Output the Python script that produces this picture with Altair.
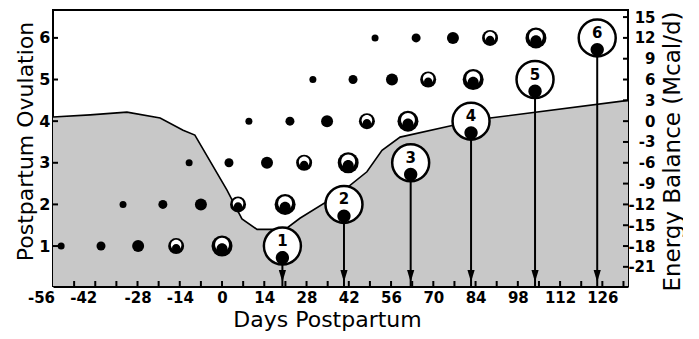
import altair as alt
import pandas as pd

# ---------------- data ----------------
day_labels = [-56, -42, -28, -14, 0, 14, 28, 42, 56, 70, 84, 98, 112, 126]
day_minor_ticks = [-49, -42, -35, -28, -21, -14, -7, 0, 7, 14, 21, 28, 35, 42, 49, 56,
                   63, 70, 77, 84, 91, 98, 105, 112, 119, 126, 133]
ovulation_ticks = [1, 2, 3, 4, 5, 6]
energy_ticks = [-21, -18, -15, -12, -9, -6, -3, 0, 3, 6, 9, 12, 15]

# energy balance curve (Mcal/d)
curve_day = [-56, -43.7, -31.5, -20.5, -12.9, -9.0, 1.6, 6.6, 11.6, 20.9, 25.8,
             39.1, 48.0, 53.0, 59.0, 75.5, 88.8, 134.5]
curve_energy = [0.6, 0.9, 1.3, 0.45, -1.3, -2.0, -9.9, -14.1, -15.6, -15.6, -14.0,
                -10.4, -7.3, -4.2, -2.3, -0.7, 0.45, 3.0]

# follicle waves: day of each growth stage, per ovulation row
stages = [1, 2, 3, 4, 5]
row1_days = [-53.3, -40.1, -27.8, -15.2, 0.0]
row2_days = [-32.8, -19.6, -7.0, 5.3, 20.9]
row3_days = [-10.9, 2.3, 14.9, 27.2, 41.8]
row4_days = [8.9, 22.5, 34.8, 48.0, 61.6]
row5_days = [30.1, 43.4, 56.3, 68.3, 83.2]
row6_days = [50.7, 64.3, 76.5, 88.8, 104.0]

ovulation_number = [1, 2, 3, 4, 5, 6]
ovulation_day = [20.0, 40.4, 62.5, 82.5, 103.7, 124.3]

DAY_DOMAIN = [-56, 134.5]
OVU_DOMAIN = [0.04, 6.67]
ENERGY_DOMAIN = [-23.76, 16.02]

# marker style: symbol area per growth stage (diameter^2)
STAGE_SYMBOL_SIZE = {1: 49, 2: 81, 3: 144, 4: 256, 5: 441}

# ---------------- tables ----------------
rows = [row1_days, row2_days, row3_days, row4_days, row5_days, row6_days]
fol = pd.DataFrame([{"day": d, "row": r, "stage": s, "sym": STAGE_SYMBOL_SIZE[s]}
                    for r, days in zip(ovulation_number, rows)
                    for s, d in zip(stages, days)])
ovu = pd.DataFrame({"day": ovulation_day, "row": ovulation_number,
                    "label": [str(n) for n in ovulation_number],
                    "base": [OVU_DOMAIN[0]] * len(ovulation_number)})
curve = pd.DataFrame({"day": curve_day, "energy": curve_energy,
                      "floor": [ENERGY_DOMAIN[0]] * len(curve_day)})
lt = pd.DataFrame({"row": ovulation_ticks})
bt = pd.DataFrame({"day": day_minor_ticks})
rt = pd.DataFrame({"energy": energy_ticks})

W, H = 575, 276
FONT = "DejaVu Sans"

# ---------------- shapes (unit square, scaled by size) ----------------
WHITE_CAP = "M -0.66 -0.12 A 0.66 0.66 0 1 1 0.66 -0.12 A 0.66 0.66 0 1 1 -0.66 -0.12 Z"
BLACK_CORE = "M -0.52 0.26 A 0.52 0.52 0 1 1 0.52 0.26 A 0.52 0.52 0 1 1 -0.52 0.26 Z"
OV_BLOB = "M -0.36 0.63 A 0.36 0.36 0 1 1 0.36 0.63 A 0.36 0.36 0 1 1 -0.36 0.63 Z"
ARROW = "M -0.6 -1 L 0.6 -1 L 0 1 Z"

# ---------------- scales & axes ----------------
x_scale = alt.Scale(domain=DAY_DOMAIN, nice=False, zero=False)
x_axis = alt.Axis(values=day_labels, ticks=False, tickSize=0, grid=False,
                  domain=True, domainColor="black", domainWidth=3,
                  labelFlush=False, labelPadding=4, labelFontSize=15,
                  labelFontWeight="bold", labelExpr="'' + datum.value",
                  labelOffset={"condition": {"test": "datum.value <= -42", "value": -12}, "value": 0},
                  title="Days Postpartum", titleFontSize=22, titleFontWeight="normal",
                  titleX=274, titleY=40, titleBaseline="alphabetic")

y_scale = alt.Scale(domain=OVU_DOMAIN, nice=False, zero=False)
y_axis = alt.Axis(values=ovulation_ticks, ticks=False, tickSize=0, grid=False,
                  domain=False, labelFlush=False, labelPadding=3, labelFontSize=16,
                  labelFontWeight="bold",
                  title="Postpartum Ovulation", titleFontSize=22, titleFontWeight="normal",
                  titleAngle=270, titleX=-28, titleY=131, titleBaseline="middle")

e_scale = alt.Scale(domain=ENERGY_DOMAIN, nice=False, zero=False)
e_axis = alt.Axis(orient="right", values=energy_ticks, ticks=False, tickSize=0, grid=False,
                  domain=False, labelFlush=False, labelAlign="right", labelPadding=27,
                  labelFontSize=15, labelFontWeight="bold", labelExpr="'' + datum.value",
                  title="Energy Balance (Mcal/d)", titleFontSize=23, titleFontWeight="normal",
                  titleAngle=270, titleX=44, titleY=141, titleBaseline="middle")


def X(f="day"):
    return alt.X(f"{f}:Q", scale=x_scale, axis=x_axis)


def Y(f="row"):
    return alt.Y(f"{f}:Q", scale=y_scale, axis=y_axis)


def YE(f="energy"):
    return alt.Y(f"{f}:Q", scale=e_scale, axis=e_axis)


size_enc = alt.Size("sym:Q", scale=None, legend=None)

# ---------------- energy layer ----------------
area = alt.Chart(curve).mark_area(color="#c8c8c8", clip=True).encode(
    x=X(), y=YE(), y2=alt.Y2("floor:Q"))
line = alt.Chart(curve).mark_line(color="black", strokeWidth=1.6, clip=True).encode(
    x=X(), y=YE())
rticks = alt.Chart(rt).mark_rule(color="black", strokeWidth=2).encode(
    x=alt.value(W - 5), x2=alt.value(W), y=YE())
energy_layer = alt.layer(area, line, rticks)

# ---------------- ovulation layer ----------------
lticks = alt.Chart(lt).mark_rule(color="black", strokeWidth=2).encode(
    x=alt.value(0), x2=alt.value(5), y=Y())
bticks = alt.Chart(bt).mark_rule(color="black", strokeWidth=2).encode(
    x=X(), y=alt.value(H - 5), y2=alt.value(H))
arrows = alt.Chart(ovu).mark_rule(color="black", strokeWidth=2).encode(
    x=X(), y=Y(), y2=alt.Y2("base:Q"))
heads = alt.Chart(ovu).mark_point(shape=ARROW, filled=True, color="black", opacity=1,
                                  size=144, yOffset=-10).encode(x=X(), y=Y("base"))
dots = alt.Chart(fol).mark_point(shape="circle", filled=True, color="black", opacity=1).encode(
    x=X(), y=Y(), size=size_enc)
caps = alt.Chart(fol).transform_filter("datum.stage >= 4").mark_point(
    shape=WHITE_CAP, filled=True, color="white", opacity=1).encode(x=X(), y=Y(), size=size_enc)
cores = alt.Chart(fol).transform_filter("datum.stage >= 4").mark_point(
    shape=BLACK_CORE, filled=True, color="black", opacity=1).encode(x=X(), y=Y(), size=size_enc)
ocircle = alt.Chart(ovu).mark_point(shape="circle", filled=True, fill="white", stroke="black",
                                    strokeWidth=2.5, opacity=1, size=1369).encode(x=X(), y=Y())
oblob = alt.Chart(ovu).mark_point(shape=OV_BLOB, filled=True, color="black", opacity=1,
                                  size=1369).encode(x=X(), y=Y())
otext = alt.Chart(ovu).mark_text(dy=-5, fontSize=15, fontWeight="bold", font=FONT,
                                 color="black").encode(x=X(), y=Y(), text="label:N")
ov_layer = alt.layer(lticks, bticks, arrows, heads, dots, caps, cores, ocircle, oblob, otext)

chart = (
    alt.layer(energy_layer, ov_layer)
    .resolve_scale(y="independent")
    .properties(width=W, height=H, background="white",
                padding={"left": 45, "top": 2, "right": 55, "bottom": 45},
                autosize=alt.AutoSizeParams(type="none"))
    .configure_view(stroke="black", strokeWidth=2)
    .configure_axis(labelFont=FONT, titleFont=FONT, labelColor="black", titleColor="black")
)

chart.save("out.html", embed_options={"renderer": "svg", "actions": False})
